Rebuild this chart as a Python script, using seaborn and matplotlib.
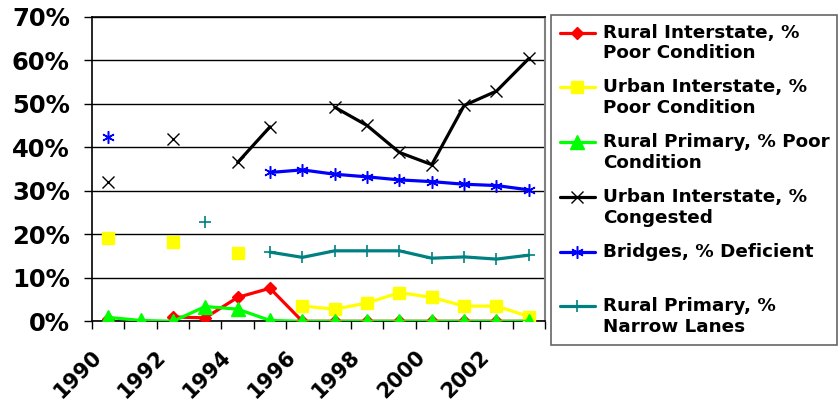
import numpy as np
import pandas as pd
import matplotlib
matplotlib.use("Agg")
import matplotlib.pyplot as plt
from matplotlib.lines import Line2D
from matplotlib.legend_handler import HandlerLine2D
from matplotlib.ticker import PercentFormatter, FixedLocator
from matplotlib.transforms import ScaledTranslation
import seaborn as sns

nan = np.nan

# ---- data (percent) ----
years = list(range(1990, 2004))
rural_interstate_poor = [0.5, nan, 1.0, 0.8, 5.5, 7.6, 0, 0, 0, 0, 0, 0, 0, 0]
urban_interstate_poor = [19.2, nan, 18.3, nan, 15.6, nan, 3.5, 2.8, 4.2, 6.6, 5.5, 3.5, 3.5, 1.1]
rural_primary_poor = [0.9, 0.2, 0.0, 3.4, 2.8, 0.2, 0, 0, 0, 0, 0, 0, 0, 0]
urban_interstate_congested = [32.1, nan, 41.8, nan, 36.5, 44.7, nan, 49.2, 45.0, 38.8, 36.0, 49.6, 52.9, 60.4]
bridges_deficient = [42.4, nan, nan, nan, nan, 34.2, 34.8, 33.8, 33.2, 32.5, 32.1, 31.5, 31.2, 30.2]
rural_primary_narrow = [nan, nan, nan, 22.9, nan, 15.9, 14.7, 16.2, 16.2, 16.2, 14.5, 14.8, 14.3, 15.2]

series_labels = [
    "Rural Interstate, %\nPoor Condition",
    "Urban Interstate, %\nPoor Condition",
    "Rural Primary, % Poor\nCondition",
    "Urban Interstate, %\nCongested",
    "Bridges, % Deficient\n ",
    "Rural Primary, %\nNarrow Lanes",
]
series_values = [rural_interstate_poor, urban_interstate_poor, rural_primary_poor,
                 urban_interstate_congested, bridges_deficient, rural_primary_narrow]
tick_years = years[::2]

# ---- styles ----
styles = [
    dict(color="#FF0000", marker="D", ms=6.5, mec="#FF0000", mew=1),
    dict(color="#FFFF00", marker="s", ms=8.5, mec="#FFFF00", mew=1),
    dict(color="#00FF00", marker="^", ms=9.5, mec="#00FF00", mew=1),
    dict(color="#000000", marker="x", ms=8, mec="#000000", mew=1),
    dict(color="#0000FF", marker=(6, 2, 0), ms=9, mec="#0000FF", mew=1.1),
    dict(color="#008080", marker="+", ms=9, mec="#008080", mew=1.2),
]

# long table; each unbroken run of values gets its own segment id
rows = []
for label, vals in zip(series_labels, series_values):
    seg = 0
    prev_nan = True
    for yr, v in zip(years, vals):
        if np.isnan(v):
            prev_nan = True
            continue
        if prev_nan:
            seg += 1
        prev_nan = False
        rows.append(dict(series=label, year=yr, value=v, seg=seg))
df = pd.DataFrame(rows)

sns.set_theme(style="white")
plt.rcParams["font.family"] = ["DejaVu Sans"]
plt.rcParams["font.weight"] = "bold"
for key in ["text.color", "axes.labelcolor", "xtick.color", "ytick.color"]:
    plt.rcParams[key] = "black"

fig = plt.figure(figsize=(8.38, 4.11), dpi=100)
ax = fig.add_axes([0.1098, 0.2182, 0.6504 - 0.1098, 0.9594 - 0.2182])

for label, st in zip(series_labels, styles):
    sub = df[df["series"] == label]
    sns.lineplot(data=sub, x="year", y="value", units="seg", estimator=None,
                 ax=ax, legend=False, lw=2.3, zorder=3, **st)

# axes
ax.set_xlim(1989.5, 2003.5)
ax.set_ylim(0, 70)
ax.set_xlabel("")
ax.set_ylabel("")
ax.yaxis.set_major_locator(FixedLocator(np.arange(0, 71, 10)))
ax.yaxis.set_major_formatter(PercentFormatter(xmax=100, decimals=0))
ax.yaxis.grid(True, color="black", lw=1)
ax.xaxis.grid(False)
ax.set_axisbelow(True)

ax.set_xticks(tick_years)
ax.set_xticklabels([str(y) for y in tick_years], rotation=45, ha="right",
                   rotation_mode="anchor", fontsize=15, fontweight="bold", color="black")
ax.set_xticks(np.arange(1989.5, 2004, 1), minor=True)
ax.tick_params(axis="x", which="major", length=0, pad=14)
ax.tick_params(axis="x", which="minor", length=6, width=1, color="black", direction="out", bottom=True)
ax.tick_params(axis="y", which="major", length=6, width=1, color="black", direction="out",
               left=True, pad=10, labelsize=17.5, labelcolor="black")
for t in ax.get_yticklabels():
    t.set_fontweight("bold")
shift = ScaledTranslation(-0.17, -0.06, fig.dpi_scale_trans)
for t in ax.get_xticklabels():
    t.set_transform(t.get_transform() + shift)

for side in ["left", "bottom", "top"]:
    ax.spines[side].set_color("black")
    ax.spines[side].set_linewidth(1.2)
ax.spines["right"].set_color("#808080")
ax.spines["right"].set_linewidth(1.5)


class FirstLineHandler(HandlerLine2D):
    """Place the legend key next to the first line of a two-line label."""
    def create_artists(self, legend, orig_handle, xdescent, ydescent, width, height, fontsize, trans):
        arts = super().create_artists(legend, orig_handle, xdescent, ydescent, width,
                                      height, fontsize, trans)
        for a in arts:
            a.set_ydata(np.asarray(a.get_ydata(), dtype=float) + 0.6 * fontsize)
        return arts


handles = [Line2D([], [], lw=2.3, **st) for st in styles]
leg = fig.legend(handles, series_labels, loc="upper left",
                 bbox_to_anchor=(551 / 838, 1 - 15 / 411, 286 / 838, 0.0),
                 mode="expand", borderaxespad=0,
                 handler_map={Line2D: FirstLineHandler()},
                 prop=dict(weight="bold", size=13.2),
                 frameon=True, fancybox=False, edgecolor="#404040",
                 borderpad=0.47, labelspacing=0.87, handlelength=1.95,
                 handletextpad=0.4)
leg.get_frame().set_linewidth(1.2)
for t in leg.get_texts():
    t.set_color("black")

fig.savefig("out.png", dpi=100)
